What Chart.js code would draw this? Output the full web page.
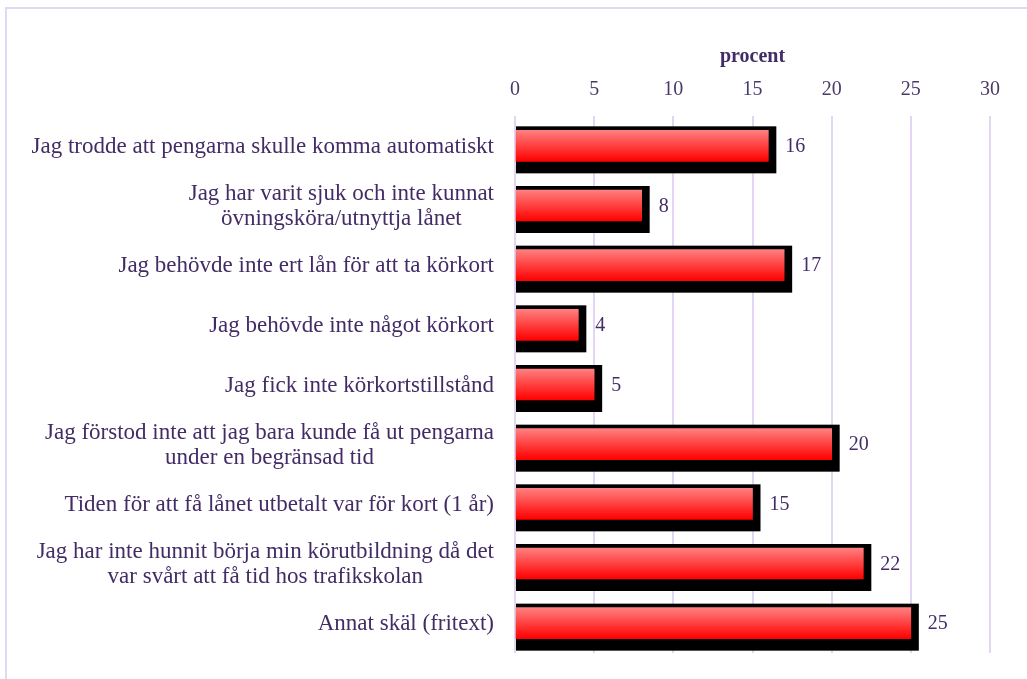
<!DOCTYPE html>
<html>
<head>
<meta charset="utf-8">
<script src="https://cdn.jsdelivr.net/npm/chart.js@4"></script>
<style>
  html, body { margin: 0; padding: 0; background: #fff; overflow: hidden; }
  #frame { position: absolute; left: 5px; top: 7px; width: 1100px; height: 720px; border: 2px solid #e2d8f1; }
  #wrap { position: absolute; left: 0; top: 0; width: 1027px; height: 679px; }
</style>
</head>
<body>
<div id="frame"></div>
<div id="wrap"><canvas id="chart"></canvas></div>
<script>
// kategorier och värden (procent)
const categories = [
  ['Jag trodde att pengarna skulle komma automatiskt'],
  ['Jag har varit sjuk och inte kunnat', 'övningsköra/utnyttja lånet'],
  ['Jag behövde inte ert lån för att ta körkort'],
  ['Jag behövde inte något körkort'],
  ['Jag fick inte körkortstillstånd'],
  ['Jag förstod inte att jag bara kunde få ut pengarna', 'under en begränsad tid'],
  ['Tiden för att få lånet utbetalt var för kort (1 år)'],
  ['Jag har inte hunnit börja min körutbildning då det', 'var svårt att få tid hos trafikskolan'],
  ['Annat skäl (fritext)']
];
const values = [16, 8, 17, 4, 5, 20, 15, 22, 25];
const axisTitle = 'procent';
const xMin = 0, xMax = 30, xStep = 5;

const FONT = '"Liberation Serif", "DejaVu Serif", serif';
const TEXT = '#432c66';

// svart skugga bakom varje stapel + värdeetiketter + kategorietiketter
const barDecor = {
  id: 'barDecor',
  beforeDatasetsDraw(chart) {
    const ctx = chart.ctx;
    const meta = chart.getDatasetMeta(0);
    ctx.save();
    ctx.fillStyle = '#000';
    meta.data.forEach(el => {
      const h = el.height;
      const top = el.y - h / 2 - 4;
      const bottom = el.y + h / 2 + 12;
      ctx.fillRect(el.base, top, el.x + 8 - el.base, bottom - top);
    });
    ctx.restore();
  },
  afterDatasetsDraw(chart) {
    const ctx = chart.ctx;
    const meta = chart.getDatasetMeta(0);
    const yScale = chart.scales.y;
    ctx.save();
    ctx.fillStyle = TEXT;
    ctx.font = '20px ' + FONT;
    ctx.textBaseline = 'middle';
    ctx.textAlign = 'left';
    meta.data.forEach((el, i) => {
      ctx.fillText(String(values[i]), el.x + 17, el.y + 1);
    });
    // kategorietiketter: blocket högerjusterat, raderna centrerade inbördes
    ctx.font = '23px ' + FONT;
    const right = chart.chartArea.left - 21;
    const lh = 25;
    categories.forEach((lines, i) => {
      const cy = yScale.getPixelForValue(i);
      const w = Math.max(...lines.map(l => ctx.measureText(l).width));
      const cx = right - w / 2;
      ctx.textAlign = 'center';
      lines.forEach((l, j) => {
        ctx.fillText(l, cx, cy + (j - (lines.length - 1) / 2) * lh + 1);
      });
    });
    ctx.restore();
  }
};

new Chart(document.getElementById('chart'), {
  type: 'bar',
  data: {
    labels: categories,
    datasets: [{
      data: values,
      barThickness: 31,
      borderWidth: 0,
      backgroundColor(c) {
        const chart = c.chart;
        if (!chart.chartArea || c.dataIndex === undefined) return '#ff2020';
        const y = chart.scales.y.getPixelForValue(c.dataIndex);
        const g = chart.ctx.createLinearGradient(0, y - 15.5, 0, y + 15.5);
        g.addColorStop(0, '#ff8080');
        g.addColorStop(1, '#ff0000');
        return g;
      }
    }]
  },
  options: {
    indexAxis: 'y',
    responsive: true,
    maintainAspectRatio: false,
    animation: false,
    layout: { padding: { top: 30, right: 37, bottom: 26, left: 0 } },
    plugins: {
      legend: { display: false },
      tooltip: { enabled: false }
    },
    scales: {
      x: {
        position: 'top',
        min: xMin,
        max: xMax,
        ticks: { stepSize: xStep, padding: 14, color: '#4a3a6a', font: { family: FONT, size: 20 } },
        grid: { color: '#e2d6f2', lineWidth: 2, drawTicks: false },
        border: { display: false },
        title: { display: true, text: axisTitle, color: TEXT, padding: { top: 15, bottom: -5 }, font: { family: FONT, size: 20, weight: 'bold' } }
      },
      y: {
        ticks: { display: false },
        grid: { display: false },
        border: { display: false },
        afterFit(s) { s.width = 515; }
      }
    }
  },
  plugins: [barDecor]
});
</script>
</body>
</html>
